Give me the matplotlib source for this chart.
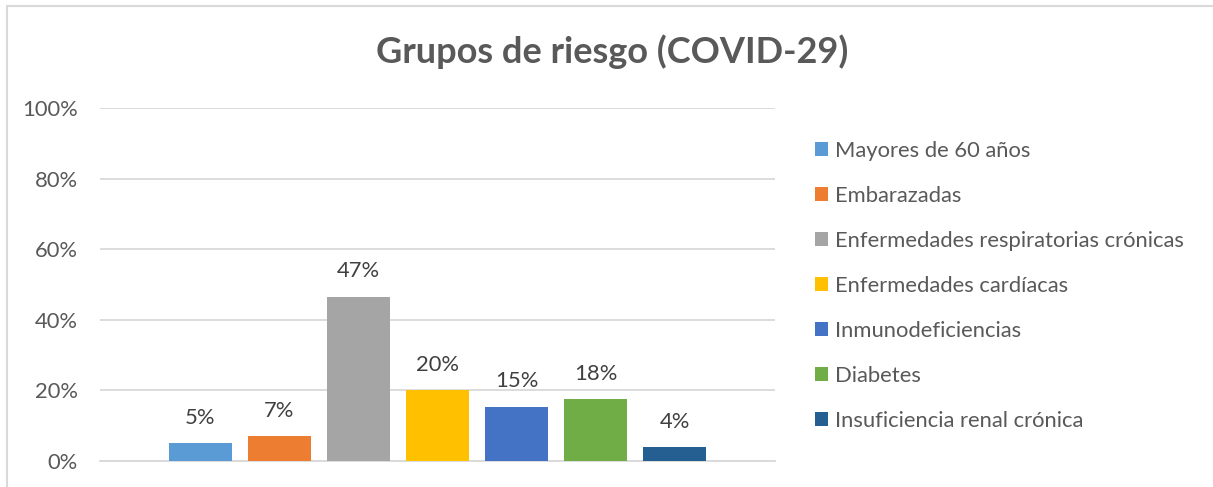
import matplotlib
matplotlib.use("Agg")
import matplotlib.pyplot as plt
from matplotlib.patches import Patch, Rectangle

series = ["Mayores de 60 años", "Embarazadas", "Enfermedades respiratorias crónicas",
          "Enfermedades cardíacas", "Inmunodeficiencias", "Diabetes",
          "Insuficiencia renal crónica"]
values = [0.051, 0.071, 0.466, 0.201, 0.154, 0.176, 0.040]
colors = ["#5B9BD5", "#ED7D31", "#A5A5A5", "#FFC000", "#4472C4", "#70AD47", "#255E91"]
yticks = [0, 0.2, 0.4, 0.6, 0.8, 1.0]
ytick_labels = ["0%", "20%", "40%", "60%", "80%", "100%"]
title = "Grupos de riesgo (COVID-29)"

plt.rcParams['font.family'] = ['Lato', 'DejaVu Sans']
W, H = 1213, 487
fig = plt.figure(figsize=(W / 100, H / 100), dpi=100)
fig.patch.set_facecolor("white")

# chart frame
fig.patches.append(Rectangle((7 / W, -0.1), 1.2, (H - 6) / H + 0.1, transform=fig.transFigure,
                             fill=False, edgecolor="#D9D9D9", linewidth=1.5))

ax = fig.add_axes([100 / W, (H - 461) / H, 675 / W, (461 - 108) / H])
ax.set_facecolor("none")
text_color = "#595959"
fs = 15.8

x = list(range(len(values)))
ax.bar(x, values, width=0.8, color=colors, zorder=3)
for xi, v in zip(x, values):
    ax.annotate(f"{v:.0%}", (xi, v), xytext=(0, 11), textcoords="offset points",
                ha="center", va="bottom", fontsize=fs, color="#404040")

ax.set_xlim(-1.266, 7.266)
ax.set_ylim(0, 1.0)
ax.set_yticks(yticks)
ax.set_yticklabels(ytick_labels, fontsize=fs, color=text_color)
ax.set_xticks([])
ax.tick_params(axis="y", length=0, pad=16)
ax.grid(axis="y", color="#D9D9D9", linewidth=1.3, zorder=0)
for s in ["top", "right", "left"]:
    ax.spines[s].set_visible(False)
ax.spines["bottom"].set_color("#D9D9D9")
ax.spines["bottom"].set_linewidth(1.3)

fig.text(612 / W, 1 - 52 / H, title, ha="center", va="center", fontsize=26,
         fontweight="bold", color=text_color)

handles = [Patch(facecolor=c, edgecolor="none") for c in colors]
fig.legend(handles, series, loc="upper left", bbox_to_anchor=(806 / W, 1 - 132 / H),
           frameon=False, fontsize=fs, handlelength=0.6, handleheight=0.6,
           handletextpad=0.3, labelspacing=1.14, labelcolor=text_color, borderaxespad=0)

fig.savefig("out.png", dpi=100, facecolor="white")
